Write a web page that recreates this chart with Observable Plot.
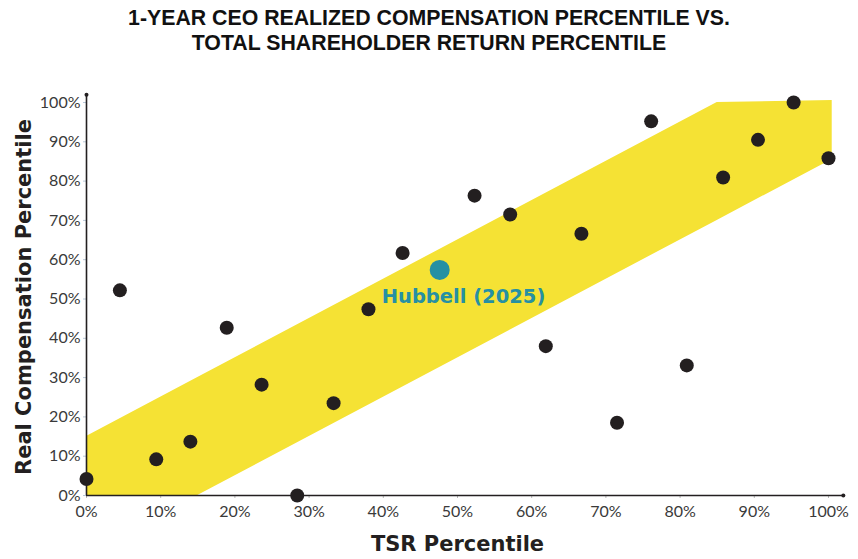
<!DOCTYPE html>
<html>
<head>
<meta charset="utf-8">
<script src="https://cdn.jsdelivr.net/npm/d3@7"></script>
<script src="https://cdn.jsdelivr.net/npm/@observablehq/plot@0.6"></script>
<style>
  html, body { margin: 0; padding: 0; background: #fff; }
  #title {
    height: 60px; box-sizing: border-box; padding-top: 6px;
    font-family: "Liberation Sans", Arial, sans-serif; font-weight: bold;
    font-size: 21.3px; line-height: 25px; text-align: center; color: #111;
    width: 858px;
  }
  #chart svg { display: block; }
</style>
</head>
<body>
<div id="title">1-YEAR CEO REALIZED COMPENSATION PERCENTILE VS.<br>TOTAL SHAREHOLDER RETURN PERCENTILE</div>
<div id="chart"></div>
<script>
// Peer companies: TSR percentile (x) and realized compensation percentile (y)
const tsrPct  = [0, 4.5, 9.4, 14.0, 18.9, 23.6, 28.4, 33.3, 38.0, 42.6, 52.3, 57.1, 61.9, 66.7, 71.5, 76.1, 80.9, 85.8, 90.5, 95.3, 100];
const compPct = [4.2, 52.2, 9.2, 13.7, 42.7, 28.2, 0, 23.5, 47.4, 61.7, 76.3, 71.5, 38.0, 66.6, 18.5, 95.2, 33.1, 80.9, 90.5, 100, 85.8];

// Highlighted company
const focusName = ["Hubbell (2025)"];
const focusTsr  = [47.6];
const focusComp = [57.4];

// Alignment band (TSR ± 15 points)
const bandX    = [0, 15, 85, 100.5];
const bandLow  = [0, 0, 70, 85.5];
const bandHigh = [15, 30, 100, 100.5];

// Tick values
const ticks = [0, 10, 20, 30, 40, 50, 60, 70, 80, 90, 100];
const axisEnd = [102];

const peers = tsrPct.map((x, i) => ({x, y: compPct[i]}));
const focus = focusName.map((name, i) => ({name, x: focusTsr[i], y: focusComp[i]}));

const tickFont = "Lato, 'Open Sans', sans-serif";

const chart = Plot.plot({
  width: 858,
  height: 499,
  marginTop: 42,
  marginBottom: 64,
  marginLeft: 86,
  marginRight: 30,
  x: {domain: [0, 100]},
  y: {domain: [0, 100]},
  style: {background: "#fff", overflow: "visible"},
  marks: [
    Plot.areaY(bandX, {x: bandX, y1: bandLow, y2: bandHigh, fill: "#f5e234", curve: "linear"}),
    Plot.axisX({ticks, tickFormat: d => d + "%", tickSize: 3, tickPadding: 7, stroke: "#b8b8b8", fill: "#3a3a3a",
      fontSize: 16, fontFamily: tickFont, label: null}),
    Plot.axisY({ticks, tickFormat: d => d + "%", tickSize: 3, tickPadding: 3, stroke: "#b8c8d8", fill: "#3a3a3a",
      fontSize: 16, fontFamily: tickFont, label: null}),
    Plot.ruleX([0], {y1: 0, y2: axisEnd[0], stroke: "#231f20", strokeWidth: 1.6}),
    Plot.ruleY([0], {x1: 0, x2: axisEnd[0], stroke: "#231f20", strokeWidth: 1.6}),
    Plot.dot([0], {x: 0, y: axisEnd[0], r: 2, fill: "#231f20"}),
    Plot.dot([0], {x: axisEnd[0], y: 0, r: 2, fill: "#231f20"}),
    Plot.dot(peers, {x: "x", y: "y", r: 7, fill: "#231f20"}),
    Plot.dot(focus, {x: "x", y: "y", r: 10, fill: "#2690a3"}),
    Plot.text(focus, {x: "x", y: "y", text: "name", textAnchor: "start", dx: -58, dy: 27, lineAnchor: "middle",
      fill: "#2690a3", fontSize: 19.5, fontWeight: "bold", fontFamily: "'DejaVu Sans', sans-serif"}),
    Plot.text(["TSR Percentile"], {frameAnchor: "bottom", lineAnchor: "bottom", dy: 55,
      fill: "#231f20", fontSize: 21, fontWeight: "bold", fontFamily: "'DejaVu Sans', sans-serif"}),
    Plot.text(["Real Compensation Percentile"], {frameAnchor: "left", rotate: -90, dx: -62, dy: -2,
      textAnchor: "middle", lineAnchor: "middle",
      fill: "#231f20", fontSize: 21, fontWeight: "bold", fontFamily: "'DejaVu Sans', sans-serif"})
  ]
});
document.getElementById("chart").appendChild(chart);
</script>
</body>
</html>
